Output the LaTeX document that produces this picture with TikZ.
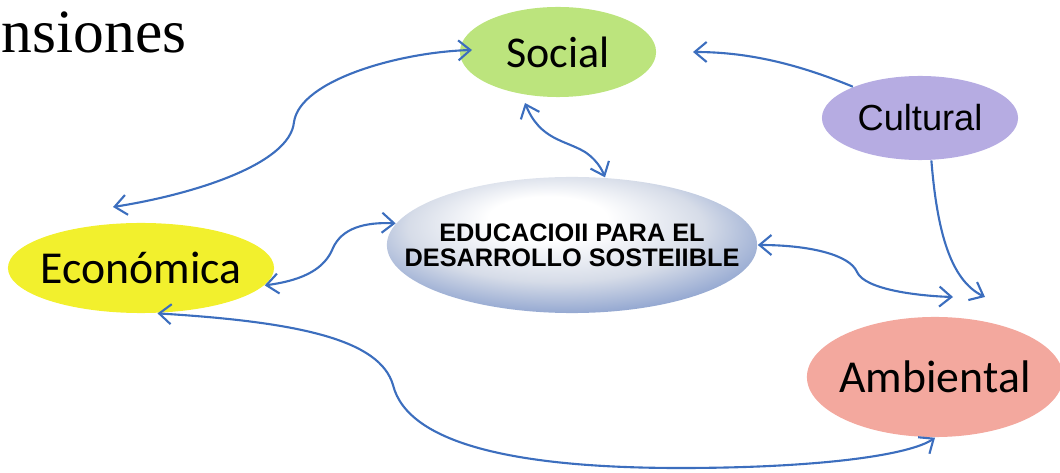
\documentclass[tikz,border=0pt]{standalone}
\usepackage{fontspec}
\setmainfont{Liberation Serif}
\newfontfamily\calibrifont{Carlito}
\newfontfamily\arialfont{Liberation Sans}
\usetikzlibrary{shapes.geometric,arrows.meta}

\definecolor{linkblue}{RGB}{60,110,190}
\definecolor{socgreen}{RGB}{188,228,125}
\definecolor{culviolet}{RGB}{182,172,226}
\definecolor{ecoyellow}{RGB}{242,240,45}
\definecolor{ambpink}{RGB}{243,168,158}
\definecolor{edsgray}{RGB}{214,220,232}
\definecolor{edsmid}{RGB}{128,152,202}
\definecolor{edsblue}{RGB}{50,84,160}
\pgfdeclareradialshading{edsshade}{\pgfpoint{-4bp}{12bp}}{color(0bp)=(white); color(8bp)=(white); color(20bp)=(edsgray); color(32bp)=(edsmid); color(44bp)=(edsblue)}

\begin{document}
\begin{tikzpicture}[x=0.01cm,y=-0.01cm,
  blob/.style={ellipse,inner sep=0pt},
  link/.style={draw=linkblue,line width=0.6pt,>={Straight Barb[length=1.2mm,width=2mm]}}]
\useasboundingbox (0,0) rectangle (1060,473);

% Title
\node[anchor=base west,inner sep=0pt,font=\fontsize{17.5}{20}\selectfont] (title) at (1,53) {nsiones};

% Define the dimensions
\node[blob,minimum width=1.96cm,minimum height=0.9cm,fill=socgreen,
  label={[font=\calibrifont\fontsize{12.5}{14}\selectfont]center:Social}] (soc) at (558,52) {};
\node[blob,minimum width=1.96cm,minimum height=0.84cm,fill=culviolet,
  label={[font=\arialfont\fontsize{10.3}{12}\selectfont]center:Cultural}] (cul) at (920,118) {};
\node[blob,minimum width=2.66cm,minimum height=0.9cm,fill=ecoyellow,
  label={[font=\calibrifont\fontsize{13}{15}\selectfont]center:Económica}] (eco) at (141,268) {};
\node[blob,minimum width=2.56cm,minimum height=1.2cm,fill=ambpink,
  label={[font=\calibrifont\fontsize{13}{15}\selectfont]center:Ambiental}] (amb) at (935,377) {};
\node[blob,minimum width=3.7cm,minimum height=1.36cm,shading=edsshade,
  label={[font=\arialfont\bfseries\fontsize{7.2}{7.2}\selectfont,align=center]center:{EDUCACIOII PARA EL\\DESARROLLO SOSTEIIBLE}}] (eds) at (572,245) {};

% Free ends of the arrows
\coordinate (s1) at (472,50);
\coordinate (s2) at (525,103);
\coordinate (s3) at (693,52);
\coordinate (e1) at (113,207);
\coordinate (a1) at (985,297);
\coordinate (a2) at (953,297);

% Draw the links
\draw[link,<->] (s1) .. controls (400,52) and (300,80) .. (294,122)
  .. controls (290,165) and (190,195) .. (e1);
\draw[link,<->] (s2) .. controls (540,140) and (565,140) .. (585,152)
  .. controls (600,162) and (604,175) .. (eds.64);
\draw[link,->] (cul.155) .. controls (800,65) and (750,52) .. (s3);
\draw[link,->] (cul.-75) .. controls (937,230) and (950,280) .. (a1);
\draw[link,<->] (eds.east) .. controls (810,245) and (850,255) .. (857,272)
  .. controls (865,290) and (920,296) .. (a2);
\draw[link,<->] (eco.-8) .. controls (305,280) and (325,268) .. (333,248)
  .. controls (342,228) and (365,222) .. (eds.173);
\draw[link,<->] (eco.-70) .. controls (300,322) and (380,340) .. (393,385)
  .. controls (408,445) and (520,468) .. (680,468)
  .. controls (820,468) and (910,455) .. (amb.south);
\end{tikzpicture}
\end{document}
